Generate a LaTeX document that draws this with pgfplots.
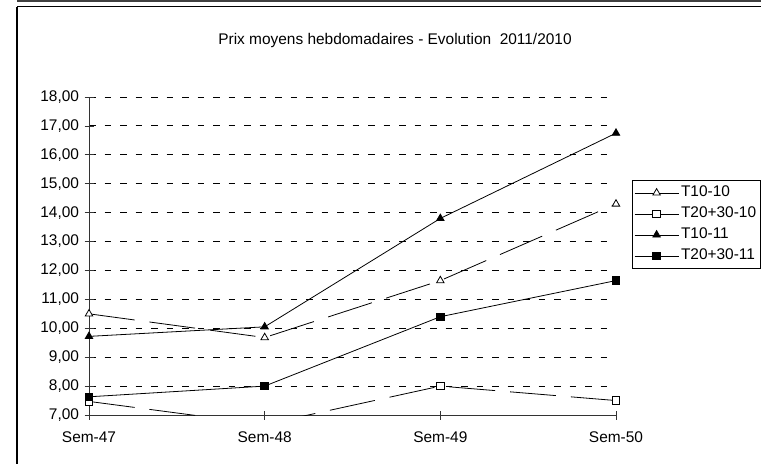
\documentclass[border=0pt]{standalone}
\usepackage{fontspec}
\setmainfont{Liberation Sans}
\usepackage{pgfplots}
\pgfplotsset{compat=1.18}
\begin{document}
\begin{tikzpicture}
\path[use as bounding box] (0bp,0bp) rectangle (761bp,-465bp);
\clip (0bp,0bp) rectangle (761bp,-465bp);
\fill[white] (0bp,0bp) rectangle (761bp,-465bp);
\draw[black!75, line width=2bp] (17bp,-1bp) -- (761bp,-1bp);
\draw[black, line width=1.2bp] (17bp,-6.5bp) -- (761bp,-6.5bp);
\draw[black, line width=1.2bp] (17bp,-6.5bp) -- (17bp,-464bp);
\node[font=\fontsize{15.5}{18}\selectfont] at (395bp,-41bp) {Prix moyens hebdomadaires - Evolution\ \ 2011/2010};
\begin{axis}[
  at={(89bp,-415bp)}, anchor=south west,
  scale only axis, width=527bp, height=318bp,
  xmin=0, xmax=3, ymin=7, ymax=18,
  xtick={0,1,2,3}, xticklabels={Sem-47,Sem-48,Sem-49,Sem-50},
  ytick={7,8,...,18},
  axis x line*=bottom, axis y line*=left,
  axis line style={black!80, line width=0.8bp, -},
  tick align=center, major tick length=9bp,
  tick style={black!80, line width=0.8bp},
  ymajorgrids, grid style={black, line width=0.9bp, dash pattern=on 6.5bp off 9bp},
  tick label style={font=\fontsize{15.5}{18}\selectfont},
  xticklabel style={yshift=-9bp},
  yticklabel style={xshift=-2bp, /pgf/number format/.cd, fixed, fixed zerofill, precision=2, use comma, assume math mode=true},
  legend style={at={(1.030,0.739)}, anchor=north west, draw=black, line width=0.8bp,
    font=\fontsize{15.5}{18}\selectfont, inner sep=2bp, row sep=0bp,
    nodes={inner sep=2bp, text height=12.5bp, text depth=4.5bp}},
  legend cell align=left,
  legend image code/.code={\draw[mark repeat=2,mark phase=2,#1,solid] plot coordinates {(0bp,0bp)(22bp,0bp)(44bp,0bp)};},
]
\addplot[black, line width=0.8bp, dash pattern=on 46bp off 15bp, mark=triangle*, mark options={fill=white, solid}, mark size=4.3bp]
  coordinates {(0,10.5)(1,9.68)(2,11.65)(3,14.3)};
\addlegendentry{T10-10}
\addplot[black, line width=0.8bp, dash pattern=on 46bp off 15bp, mark=square*, mark options={fill=white, solid}, mark size=3.8bp]
  coordinates {(0,7.47)(1,6.67)(2,8.0)(3,7.5)};
\addlegendentry{T20+30-10}
\addplot[black, line width=0.8bp, solid, mark=triangle*, mark options={fill=black}, mark size=4.3bp]
  coordinates {(0,9.72)(1,10.05)(2,13.8)(3,16.75)};
\addlegendentry{T10-11}
\addplot[black, line width=0.8bp, solid, mark=square*, mark options={fill=black}, mark size=3.8bp]
  coordinates {(0,7.63)(1,8.0)(2,10.4)(3,11.65)};
\addlegendentry{T20+30-11}
\end{axis}
\end{tikzpicture}
\end{document}
